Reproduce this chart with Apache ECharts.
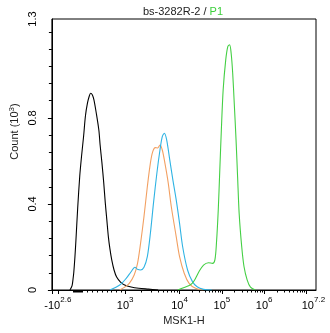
<!DOCTYPE html>
<html>
<head>
<meta charset="utf-8">
<script src="https://cdn.jsdelivr.net/npm/echarts@6/dist/echarts.min.js"></script>
<style>
html, body { margin: 0; padding: 0; background: #fff; }
#chart { width: 330px; height: 333px; }
</style>
</head>
<body>
<div id="chart"></div>
<script>
// Histogram curves: x in display channels (0–1024), y in counts (×10^3)
const blackCh    = [70, 78, 82, 85, 89, 93, 100, 108, 115, 123, 130, 138, 145, 150, 157, 163, 172, 182, 187, 194, 201, 207, 213, 219, 225, 232, 241, 251, 266, 282, 307, 337, 374, 412];
const blackCount = [0, 0.019, 0.051, 0.084, 0.149, 0.228, 0.381, 0.530, 0.623, 0.716, 0.809, 0.870, 0.902, 0.915, 0.907, 0.884, 0.823, 0.744, 0.674, 0.591, 0.498, 0.405, 0.326, 0.247, 0.191, 0.140, 0.093, 0.060, 0.037, 0.023, 0.014, 0.008, 0.004, 0];

const orangeCh    = [263, 281, 300, 319, 332, 344, 357, 370, 382, 391, 401, 410, 419, 428, 438, 451, 463, 482, 495, 513, 532, 557, 588];
const orangeCount = [0, 0.012, 0.031, 0.070, 0.124, 0.219, 0.341, 0.480, 0.591, 0.643, 0.662, 0.660, 0.674, 0.651, 0.591, 0.498, 0.387, 0.248, 0.155, 0.078, 0.031, 0.008, 0];

const blueCh    = [225, 263, 288, 307, 322, 332, 344, 357, 370, 382, 394, 407, 419, 428, 436, 445, 457, 469, 482, 495, 507, 526, 545, 563, 588, 620];
const blueCount = [0, 0.023, 0.054, 0.085, 0.106, 0.096, 0.093, 0.106, 0.155, 0.265, 0.405, 0.543, 0.651, 0.713, 0.729, 0.698, 0.605, 0.512, 0.419, 0.310, 0.201, 0.093, 0.039, 0.015, 0.003, 0];

const greenCh    = [488, 513, 536, 551, 570, 588, 607, 623, 632, 638, 645, 651, 657, 664, 674, 682, 689, 695, 701, 707, 714, 720, 726, 736, 745, 757, 770, 789];
const greenCount = [0, 0.012, 0.023, 0.042, 0.085, 0.116, 0.127, 0.124, 0.140, 0.217, 0.372, 0.558, 0.744, 0.930, 1.070, 1.132, 1.140, 1.101, 1.008, 0.868, 0.698, 0.527, 0.357, 0.201, 0.108, 0.047, 0.013, 0];

// X axis: major tick channels (decades 10^3 … 10^7) and the labelled positions
const majorTickChannels = [0, 23, 284, 495, 659, 823, 987];
const labelBase      = ['-10', '10', '10', '10', '10', '10'];
const labelExponent  = ['2.6', '3', '4', '5', '6', '7.2'];
const labelChannels  = [23, 284, 495, 659, 823, 1014];

// Y axis (counts ×10^3)
const yMax = 1.26;
const yLabelValues = [0, 0.4, 0.8, yMax];

const pairs = (xs, ys) => xs.map((x, i) => [x, ys[i]]);

// Minor ticks on the x axis: dense cluster near zero, linear steps below 10^3,
// and logarithmic steps (2..9) inside each full decade.
const decadeChannels = majorTickChannels.slice(2);
const xMinor = [];
for (let c = 81; c <= 119; c += 4) xMinor.push(c);
for (let c = 138; c < 284; c += 18.7) xMinor.push(Math.round(c));
for (let d = 0; d < decadeChannels.length - 1; d++) {
  const c0 = decadeChannels[d], c1 = decadeChannels[d + 1];
  for (let k = 2; k <= 9; k++) xMinor.push(c0 + Math.log10(k) * (c1 - c0));
}
const yMinor = [];
for (let i = 1; i <= 15; i++) yMinor.push(+(i * 0.08).toFixed(2));

const font = 'Liberation Sans, Arial, sans-serif';
const supStyle = { fontSize: 8, fontFamily: font, color: '#000', verticalAlign: 'top', padding: [0, 0, 5, 0] };

const chart = echarts.init(document.getElementById('chart'), null, { renderer: 'canvas' });

const mkLine = (name, data, color) => ({
  name, type: 'line', data, showSymbol: false, smooth: 0.3, silent: true,
  lineStyle: { color, width: 1.1 }, xAxisIndex: 0, yAxisIndex: 0
});

chart.setOption({
  animation: false,
  backgroundColor: '#fff',
  title: {
    text: '{a|bs-3282R-2 / }{b|P1}',
    left: 178, top: 1, textAlign: 'center',
    textStyle: {
      fontWeight: 'normal',
      rich: {
        a: { fontSize: 11, fontFamily: font, fontWeight: 'normal', color: '#222' },
        b: { fontSize: 11, fontFamily: font, fontWeight: 'normal', color: '#3ccf3c' }
      }
    }
  },
  grid: { left: 43, top: 19, width: 273, height: 271, show: true, borderColor: '#000', borderWidth: 1, backgroundColor: 'transparent', containLabel: false },
  xAxis: [{
    type: 'value', min: 0, max: 1024,
    name: 'MSK1-H', nameLocation: 'middle', nameGap: 18,
    nameTextStyle: { fontSize: 11, fontFamily: font, color: '#222' },
    axisLine: { show: true, lineStyle: { color: '#000', width: 1 } },
    axisTick: { show: true, length: 4, customValues: majorTickChannels, lineStyle: { color: '#000' } },
    axisLabel: {
      show: true, margin: 6, customValues: labelChannels, hideOverlap: false,
      formatter: v => {
        const i = labelChannels.indexOf(v);
        return i < 0 ? '' : '{b|' + labelBase[i] + '}{s|' + labelExponent[i] + '}';
      },
      rich: { b: { fontSize: 11, fontFamily: font, color: '#000', padding: [4, 0, 0, 0] }, s: supStyle }
    },
    splitLine: { show: false }
  }, {
    type: 'value', min: 0, max: 1024, gridIndex: 0, position: 'bottom',
    axisLine: { show: false },
    axisTick: { show: true, length: 2.5, customValues: xMinor, lineStyle: { color: '#000' } },
    axisLabel: { show: false },
    splitLine: { show: false }
  }],
  yAxis: [{
    type: 'value', min: 0, max: yMax,
    name: 'Count (10{s|3})', nameLocation: 'middle', nameGap: 25, nameRotate: 90,
    nameTextStyle: { fontSize: 11, fontFamily: font, color: '#222', padding: [0, 0, 0, 46],
      rich: { s: { fontSize: 8, fontFamily: font, color: '#222', verticalAlign: 'top', padding: [0, 0, 5, 0] } } },
    axisLine: { show: true, lineStyle: { color: '#000', width: 1 } },
    axisTick: { show: true, length: 4, customValues: [0, 0.4, 0.8], lineStyle: { color: '#000' } },
    axisLabel: {
      show: true, rotate: 90, margin: 13, customValues: yLabelValues,
      fontSize: 11, fontFamily: font, color: '#000',
      formatter: v => (v >= yMax - 1e-6 ? '1.3' : String(v))
    },
    splitLine: { show: false }
  }, {
    type: 'value', min: 0, max: yMax, gridIndex: 0, position: 'left',
    axisLine: { show: false },
    axisTick: { show: true, length: 3, customValues: yMinor, lineStyle: { color: '#000' } },
    axisLabel: { show: false },
    splitLine: { show: false }
  }],
  series: [
    mkLine('black', pairs(blackCh, blackCount), '#000000'),
    mkLine('orange', pairs(orangeCh, orangeCount), '#f2a062'),
    mkLine('blue', pairs(blueCh, blueCount), '#2fb3e3'),
    mkLine('green', pairs(greenCh, greenCount), '#44cf44')
  ]
});
</script>
</body>
</html>
